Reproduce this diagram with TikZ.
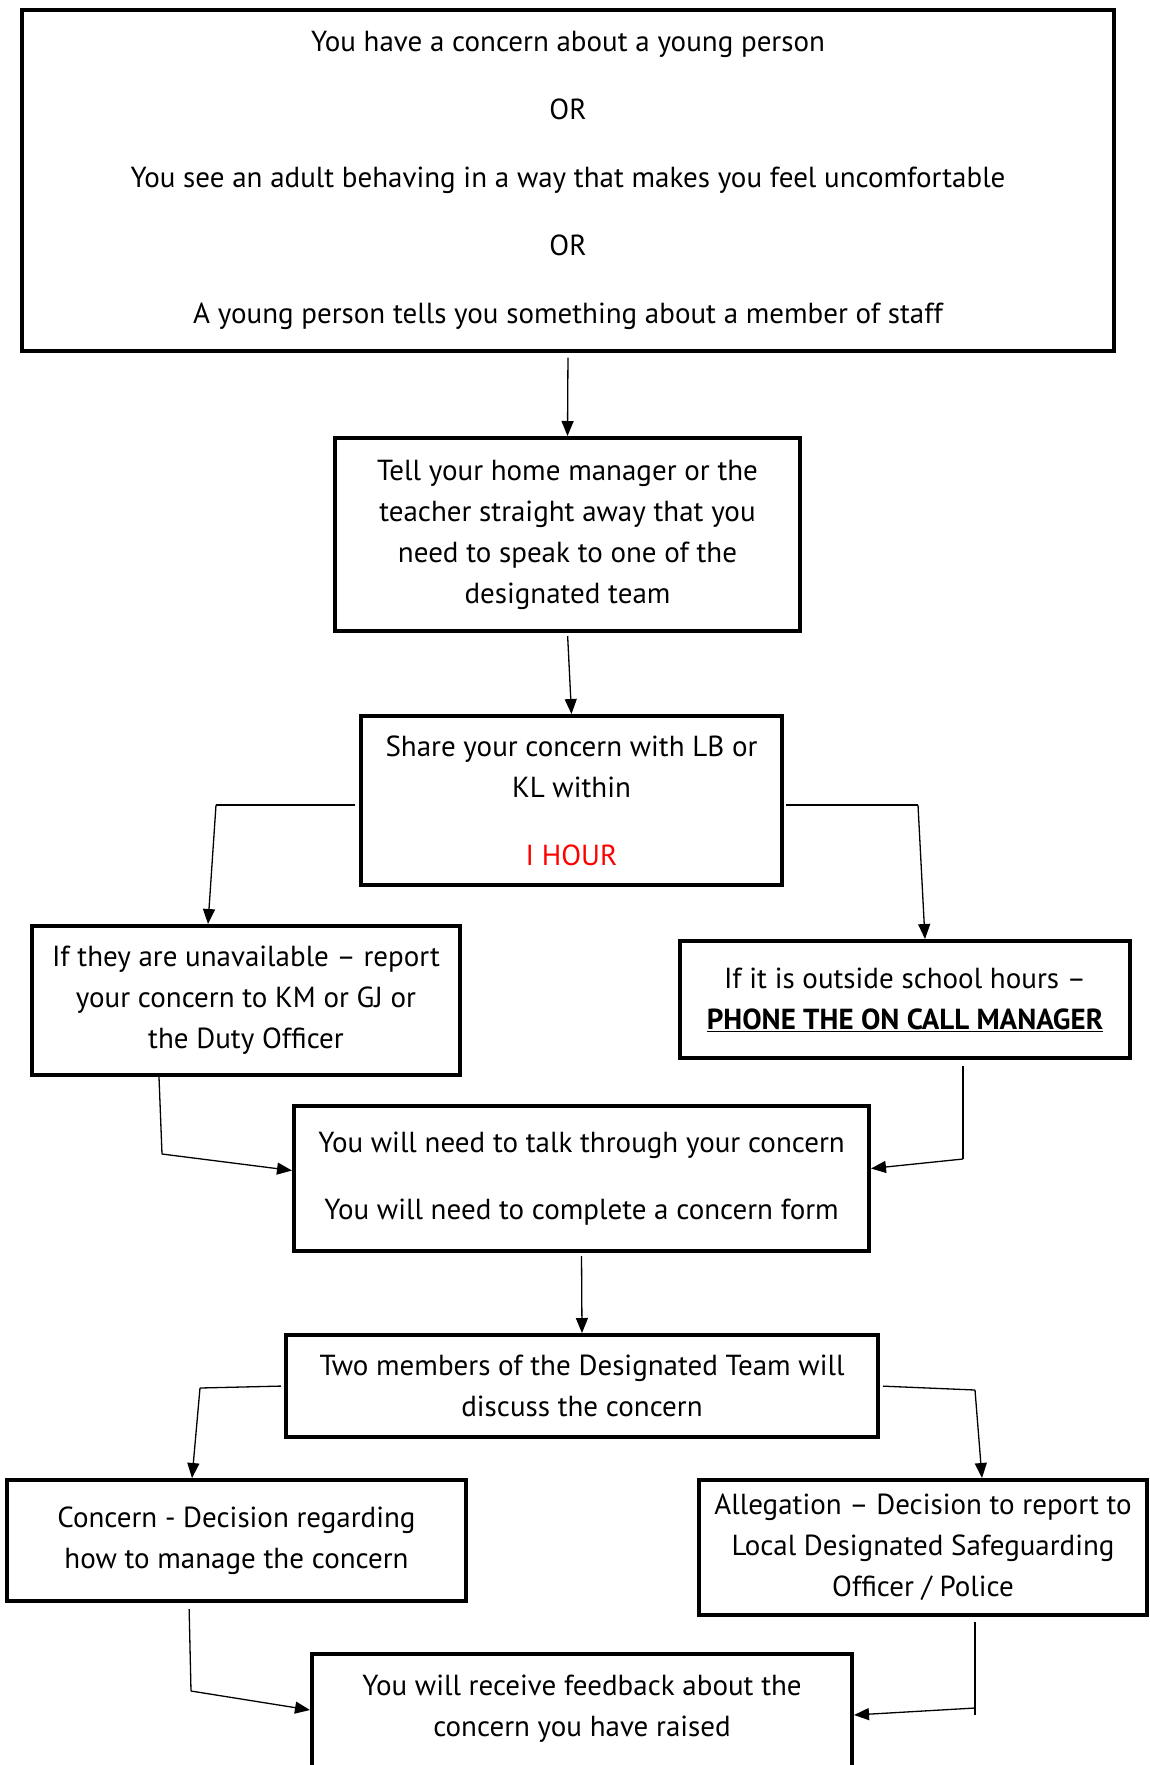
\documentclass[tikz,border=0pt]{standalone}
\usepackage{fontspec}
\setmainfont{PT Sans}
\usetikzlibrary{arrows.meta}
\tikzset{
  box/.style={draw, line width=4pt, align=center, inner sep=0pt, font=\fontsize{29}{41}\selectfont},
  link/.style={line width=1.3pt},
  arrow/.style={link, -{Triangle[length=15pt,width=12pt]}}
}
\begin{document}
\begin{tikzpicture}[x=1pt,y=-1pt]
    \useasboundingbox (0,0) rectangle (1149,1765);
    \node[box, minimum width=1092, minimum height=341] (Concern) at (568,180) {You have a concern about a young person\\[27pt] OR\\[27pt] You see an adult behaving in a way that makes you feel uncomfortable\\[27pt] OR\\[27pt] A young person tells you something about a member of staff};
    \node[box, minimum width=465, minimum height=193] (Tell) at (567.5,534.5) {Tell your home manager or the\\ teacher straight away that you\\ need to speak to one of the\\ designated team};
    \node[box, minimum width=421, minimum height=169] (Share) at (571.5,800.5) {Share your concern with LB or\\ KL within\\[27pt] \textcolor{red}{I HOUR}};
    \node[box, minimum width=428, minimum height=149] (Unavailable) at (246,1000.5) {If they are unavailable -- report\\ your concern to KM or GJ or\\ the Duty Officer};
    \node[box, minimum width=450, minimum height=117] (OnCall) at (905,999.5) {If it is outside school hours --\\ \textbf{\underline{PHONE THE ON CALL MANAGER}}};
    \node[box, minimum width=575, minimum height=145] (TalkThrough) at (581.5,1178.5) {You will need to talk through your concern\\[26pt] You will need to complete a concern form};
    \node[box, minimum width=592, minimum height=102] (Discuss) at (582,1386) {Two members of the Designated Team will\\ discuss the concern};
    \node[box, minimum width=459, minimum height=121] (Manage) at (236.5,1540.5) {Concern - Decision regarding\\ how to manage the concern};
    \node[box, minimum width=448, minimum height=135] (Allegation) at (923,1547.5) {Allegation -- Decision to report to\\ Local Designated Safeguarding\\ Officer / Police};
    \node[box, minimum width=540, minimum height=144] (Feedback) at (582,1726) {You will receive feedback about the\\ concern you have raised\\ \mbox{}};
    %
    \coordinate (ShareL) at (216,805);
    \coordinate (ShareR) at (918,805);
    \coordinate (UnavailableD) at (162,1154);
    \coordinate (OnCallD) at (963,1159);
    \coordinate (DiscussL) at (200,1388);
    \coordinate (DiscussR) at (975,1390);
    \coordinate (ManageD) at (191,1691);
    \coordinate (AllegationD) at (975,1708);
    %
    \draw[arrow, shorten <=5pt] (Concern.south) -- (Tell.north);
    \draw[arrow, shorten <=3pt] (Tell.south) -- (Share.north);
    %
    \draw[link, shorten <=4pt] (Share.west |- ShareL) -- (ShareL);
    \draw[arrow] (ShareL) -- ([xshift=-8pt]ShareL |- Unavailable.north);
    \draw[link, shorten <=2pt] (Share.east |- ShareR) -- (ShareR);
    \draw[arrow] (ShareR) -- ([xshift=7pt]ShareR |- OnCall.north);
    %
    \draw[link] ([xshift=-3pt]UnavailableD |- Unavailable.south) -- (UnavailableD);
    \draw[arrow] (UnavailableD) -- ([yshift=8pt]TalkThrough.west);
    \draw[link, shorten <=6pt] (OnCallD |- OnCall.south) -- (OnCallD);
    \draw[arrow] (OnCallD) -- ([yshift=10pt]TalkThrough.east);
    %
    \draw[arrow, shorten <=3pt] (TalkThrough.south) -- (Discuss.north);
    %
    \draw[link, shorten <=3pt] (Discuss.west) -- (DiscussL);
    \draw[arrow] (DiscussL) -- ([xshift=-8pt]DiscussL |- Manage.north);
    \draw[link, shorten <=3pt] (Discuss.east) -- (DiscussR);
    \draw[arrow] (DiscussR) -- ([xshift=7pt]DiscussR |- Allegation.north);
    %
    \draw[link, shorten <=6pt] ([xshift=-2pt]ManageD |- Manage.south) -- (ManageD);
    \draw[arrow] (ManageD) -- ([yshift=-58pt]Feedback.north west);
    \draw[link, shorten <=5pt] (AllegationD |- Allegation.south) -- ([yshift=-7pt]AllegationD);
    \draw[arrow] (AllegationD) -- ([yshift=-63pt]Feedback.north east);
\end{tikzpicture}
\end{document}
